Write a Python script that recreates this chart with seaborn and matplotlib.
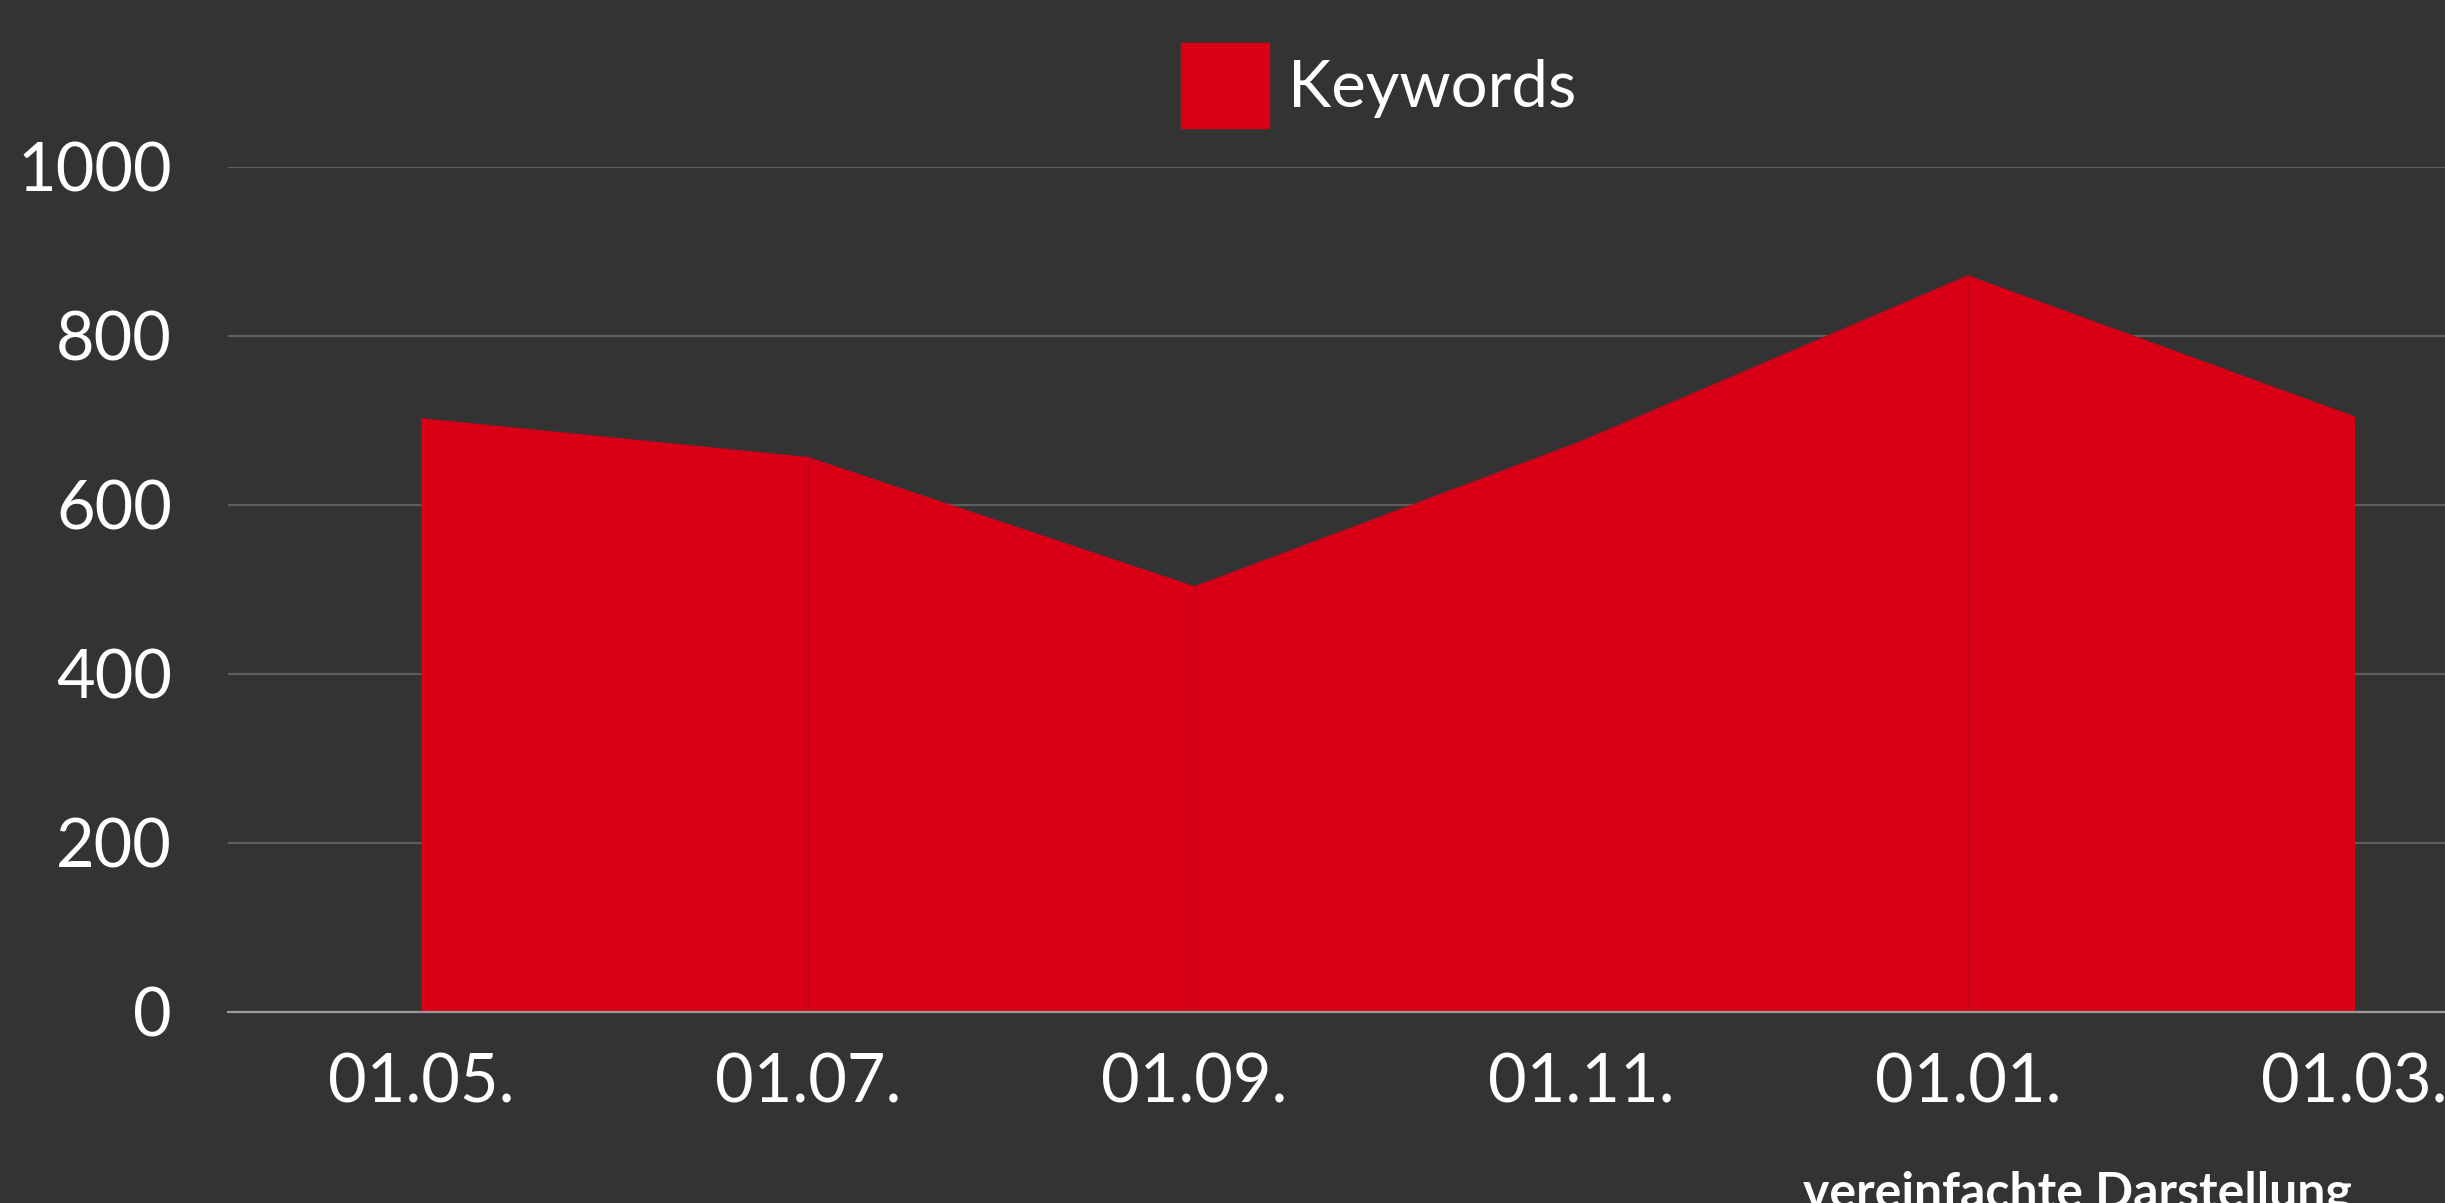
import pandas as pd
import numpy as np
import matplotlib.pyplot as plt
import seaborn as sns

# data
dates = ['01.05.', '01.07.', '01.09.', '01.11.', '01.01.', '01.03.']
keywords = [702, 656, 503, 675, 871, 704]

df = pd.DataFrame({'pos': np.arange(len(dates)), 'date': dates, 'Keywords': keywords})

bg = '#333333'
red = '#d90016'

sns.set_style('dark', {'axes.facecolor': bg, 'figure.facecolor': bg})
plt.rcParams['font.family'] = ['Lato', 'DejaVu Sans']

fig = plt.figure(figsize=(24.45, 12.03), dpi=100)
ax = fig.add_axes([0.0931, 0.1588, 0.949, 0.7024])

# area
sns.lineplot(x='pos', y='Keywords', data=df, ax=ax, color=red, linewidth=1, legend=False)
ax.fill_between(df['pos'], 0, df['Keywords'], color=red, linewidth=0, label='Keywords')
# faint seams between segments, like in the original
ax.vlines(df['pos'][1:-1], 0, df['Keywords'][1:-1], color='#c40014', linewidth=0.8, zorder=3)

ax.set_xlim(-0.5, len(dates) - 0.5)
ax.set_ylim(0, 1000)
ax.set_yticks(range(0, 1001, 200))
ax.set_xticks(df['pos'])
ax.set_xticklabels(dates)
ax.set_xlabel('')
ax.set_ylabel('')

ax.grid(axis='y', color='#5e5e5e', linewidth=1.6)
ax.grid(axis='x', visible=False)
ax.set_axisbelow(True)
for s in ['top', 'right', 'left']:
    ax.spines[s].set_visible(False)
ax.spines['bottom'].set_color('#9a9a9a')
ax.spines['bottom'].set_linewidth(1.6)
ax.spines['bottom'].set_zorder(5)

ax.tick_params(axis='y', length=0, pad=40, labelsize=48, labelcolor='white')
ax.tick_params(axis='x', length=0, pad=29, labelsize=48, labelcolor='white')

# legend
leg = fig.legend(handles=[plt.Rectangle((0, 0), 1, 1, color=red)], labels=['Keywords'],
                 loc='center', bbox_to_anchor=(0.5638, 0.929), frameon=False,
                 fontsize=47, handlelength=1.35, handleheight=1.64, handletextpad=0.3,
                 labelcolor='white')

fig.text(0.8495, 0.008, 'vereinfachte Darstellung', color='white', fontsize=36,
         fontweight='bold', ha='center', va='center')

plt.savefig('out.png', dpi=100, facecolor=bg)
